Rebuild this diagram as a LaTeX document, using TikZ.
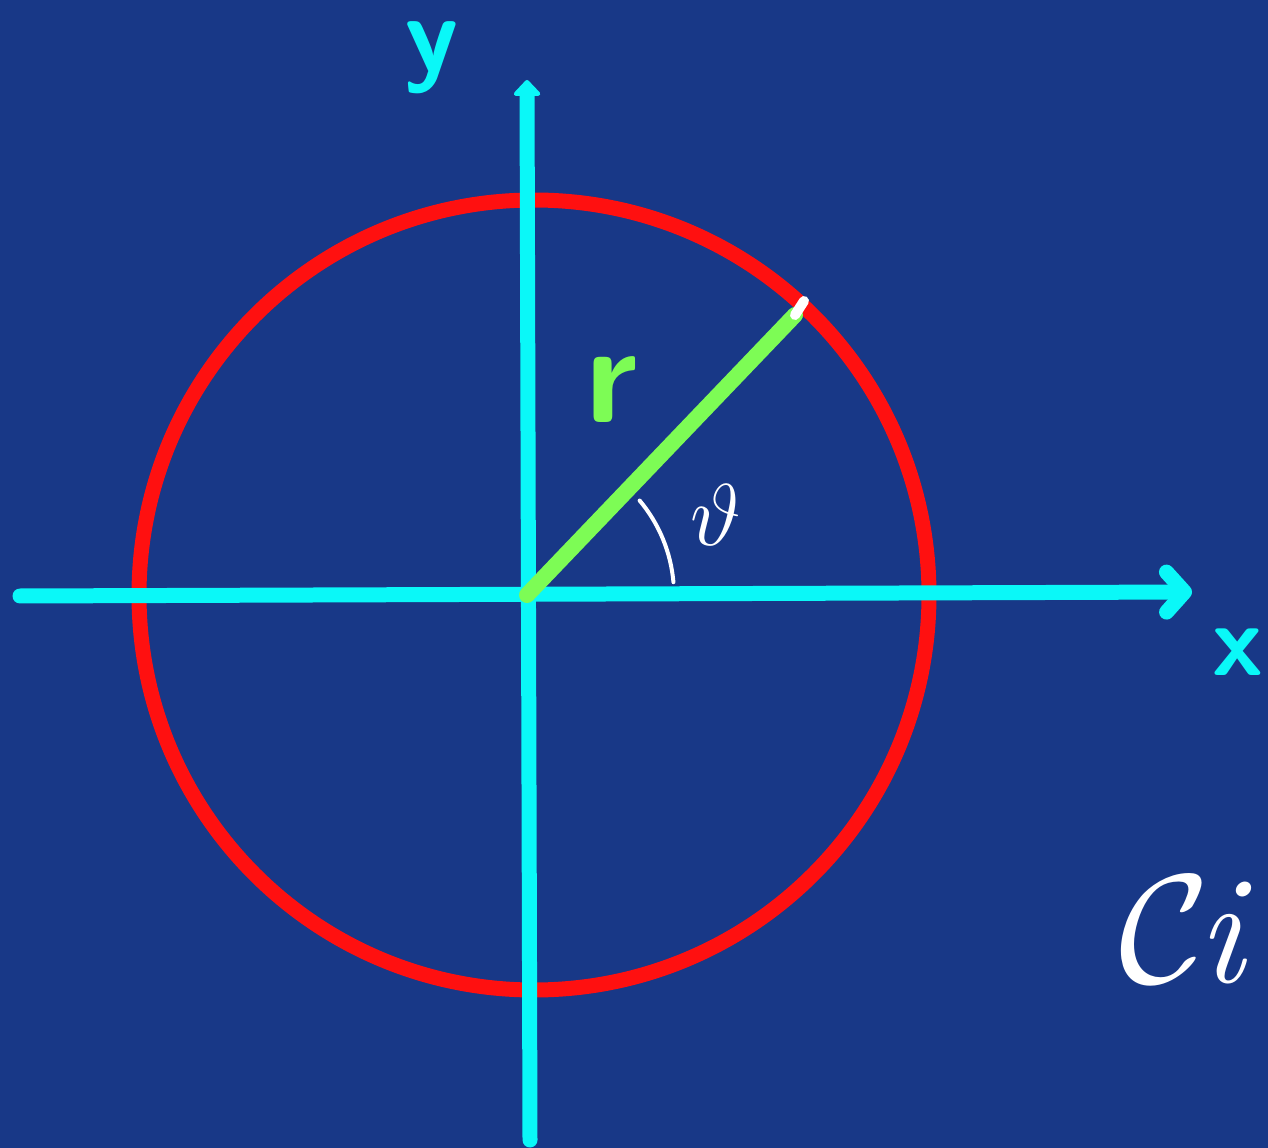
\documentclass[tikz,border=0pt]{standalone}
\usepackage{fix-cm}
\usepackage{fontspec}
\usepackage{tikz}
\usetikzlibrary{arrows.meta,positioning,calc}
\definecolor{boardblue}{RGB}{24,56,135}
\definecolor{axiscyan}{RGB}{10,248,248}
\definecolor{ringred}{RGB}{255,16,16}
\definecolor{radgreen}{RGB}{125,252,85}
\tikzset{every picture/.style={line width=0.3cm, line cap=round, line join=round}}
\tikzset{
    axis/.style={axiscyan},
    ring/.style={ringred},
    radius line/.style={radgreen, line width=0.32cm},
    chalk/.style={white, line width=0.08cm},
    hand/.style={inner sep=0pt, font=\fontsize{#1}{#1}\selectfont},
}

\begin{document}
\begin{tikzpicture}[x=0.02cm, y=-0.02cm]
    \fill[boardblue] (0,0) rectangle (1268,1148);
    \useasboundingbox (0,0) rectangle (1268,1148);
    \clip (0,0) rectangle (1268,1148);
    % points
    \coordinate (o) at (527,595);
    \coordinate (xl) at (20,596);
    \coordinate (xr) at (1192,592);
    \coordinate (yb) at (530,1140);
    \coordinate (yt) at (527,80);
    \coordinate (p) at (795,315);
    \coordinate (q) at (804,301);
    % circle and axes
    \draw[ring] (534,595) circle [radius=395];
    \draw[axis, -{Straight Barb[length=0.36cm, width=0.8cm, round]}] (xl) -- (xr);
    \draw[axis, -{Triangle[length=0.34cm, width=0.62cm, round]}] (yb) -- (yt);
    % radius and angle
    \draw[radius line] (o) -- (p);
    \draw[chalk, line width=0.2cm] (p) -- (q);
    \draw[chalk] ($(o)+(-40:147)$) arc[start angle=-40, end angle=-5, radius=147];
    % labels
    \node[hand=62, text=axiscyan] (ylab) at (432,58) {\sffamily\bfseries y};
    \node[hand=58, text=axiscyan] (xlab) at (1238,652) {\sffamily\bfseries x};
    \node[hand=80, text=radgreen] (rlab) at (612,390) {\sffamily\bfseries r};
    \node[hand=50, text=white] (theta) at (716,515) {$\vartheta$};
    \node[hand=88, text=white, anchor=base west] (word) at (1112,982) {$\mathcal{C}$\kern-0.08em\itshape i};
\end{tikzpicture}
\end{document}
